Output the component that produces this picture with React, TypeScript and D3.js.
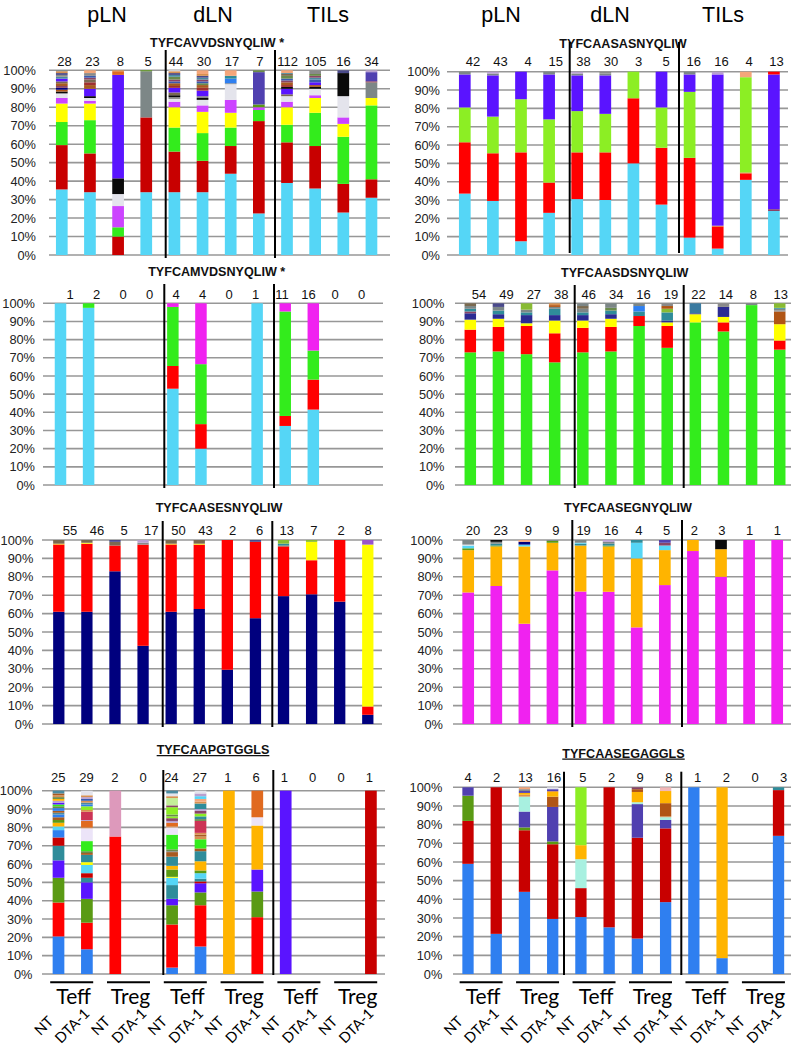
import React from "react";
import * as d3 from "d3";

// ---------- DATA ----------
const TISSUES = ["pLN", "dLN", "TILs"];
const CELL_TYPES = ["Teff", "Treg"];
const TREATMENTS = ["NT", "DTA-1"];
const Y_TICKS = [0, 10, 20, 30, 40, 50, 60, 70, 80, 90, 100];

type Seg = [string, number];

const TITLE_1L = "TYFCAVVDSNYQLIW *";
const COUNTS_1L = [28, 23, 8, 5, 44, 30, 17, 7, 112, 105, 16, 34];
const STACKS_1L: Seg[][] = [
  [["LB", 35.5], ["DR", 24], ["GR", 12.5], ["YE", 10], ["VI", 3], ["LG", 2.5], ["BK", 1], ["BR", 1], ["NV", 1], ["m5", 1], ["m3", 1.5], ["m1", 1], ["BV", 1.5], ["m6", 1], ["m8", 1], ["m2", 1], ["m7", 1], ["GY", 0.5]],
  [["LB", 34], ["DR", 21], ["GR", 18], ["YE", 9], ["VI", 1.5], ["LG", 1.5], ["BK", 1], ["BV", 4], ["m3", 2], ["m9", 1.5], ["m1", 1.5], ["m5", 1], ["m10", 1], ["m8", 1.5], ["PE", 1.5]],
  [["DR", 10], ["GR", 5], ["VI", 11.5], ["LG", 6.5], ["BK", 8.5], ["BV", 56], ["OG", 2], ["m7", 0.5]],
  [["LB", 34], ["DR", 40.5], ["GY", 25], ["OL", 0.5]],
  [["LB", 34], ["DR", 22], ["GR", 13], ["YE", 11], ["VI", 3], ["LG", 1.5], ["m8", 1], ["BK", 1], ["m1", 1.5], ["BV", 2.5], ["m9", 1], ["m3", 1.5], ["m10", 1], ["m5", 1], ["m4", 1.5], ["m6", 1], ["m2", 1], ["m7", 1], ["LG", 0.5]],
  [["LB", 34], ["DR", 17], ["GR", 15], ["YE", 11.5], ["VI", 3.5], ["LG", 3], ["BK", 1], ["m8", 1], ["BV", 3], ["m9", 1.5], ["m3", 1.5], ["m4", 1], ["m10", 1], ["m5", 1], ["m6", 1], ["m2", 1], ["m7", 1], ["PE", 2]],
  [["LB", 44], ["DR", 15], ["GR", 10], ["YE", 8], ["VI", 7], ["LG", 8.5], ["m8", 0.5], ["BL", 2.5], ["TE", 1.5], ["PE", 3]],
  [["LB", 22.5], ["DR", 50], ["GR", 6], ["VI", 1.5], ["OL", 1.5], ["SB", 17.5], ["m4", 1]],
  [["LB", 39], ["DR", 22], ["GR", 9.5], ["YE", 9.5], ["VI", 3], ["LG", 3], ["m1", 1], ["BV", 3], ["BK", 1], ["m9", 1], ["m3", 1.5], ["m5", 1], ["m10", 1], ["m4", 1.5], ["m1", 1], ["m6", 0.5], ["PE", 1.5]],
  [["LB", 36], ["DR", 23], ["GR", 18], ["YE", 8], ["VI", 1.5], ["LG", 3.5], ["BK", 1], ["m3", 1], ["BV", 1.5], ["m10", 1.5], ["m6", 1], ["m5", 1], ["m4", 1], ["m8", 2]],
  [["LB", 23], ["DR", 15.5], ["GR", 25.5], ["YE", 7], ["VI", 3.5], ["LG", 11.5], ["BK", 12.5], ["m2", 1.5]],
  [["LB", 31], ["DR", 10], ["GR", 40], ["YE", 4], ["GY", 8.5], ["m9", 0.5], ["SB", 5], ["m12", 1]],
];

const TITLE_1R = "TYFCAASASNYQLIW";
const COUNTS_1R = [42, 43, 4, 15, 38, 30, 3, 5, 16, 16, 4, 13];
const STACKS_1R: Seg[][] = [
  [["LB", 33.5], ["RD", 28], ["LM", 19], ["BV", 18], ["GY", 1.5]],
  [["LB", 29.5], ["RD", 26], ["LM", 20], ["BV", 22.5], ["GY", 1], ["m12", 1]],
  [["LB", 7.5], ["RD", 48.5], ["LM", 29], ["BV", 15]],
  [["LB", 23], ["RD", 16.5], ["LM", 34.5], ["BV", 24.5], ["GY", 1.5]],
  [["LB", 30.5], ["RD", 25.5], ["LM", 22.5], ["BV", 19.5], ["GY", 1], ["m12", 1]],
  [["LB", 30], ["RD", 26], ["LM", 21], ["BV", 21], ["GY", 1], ["m8", 1]],
  [["LB", 50], ["RD", 35.5], ["LM", 14.5]],
  [["LB", 27.5], ["RD", 31], ["LM", 22], ["BV", 19.5]],
  [["LB", 9.5], ["RD", 43.5], ["LM", 36], ["BV", 9.5], ["GY", 1.5]],
  [["LB", 3.5], ["RD", 12], ["OG", 0.5], ["BV", 82.5], ["m12", 1.5]],
  [["LB", 41], ["RD", 3.5], ["OG", 0.5], ["LM", 52], ["PE", 3]],
  [["LB", 24], ["m5", 1], ["BV", 73.5], ["RD", 1.5]],
];

const TITLE_2L = "TYFCAMVDSNYQLIW *";
const COUNTS_2L = [1, 2, 0, 0, 4, 4, 0, 1, 11, 16, 0, 0];
const STACKS_2L: Seg[][] = [
  [["LB", 100]],
  [["LB", 97.5], ["GR", 2.5]],
  [],
  [],
  [["LB", 53], ["RD", 12.5], ["GR", 32.5], ["MG", 2]],
  [["LB", 20], ["RD", 13.5], ["GR", 33], ["MG", 33.5]],
  [],
  [["LB", 100]],
  [["LB", 32.5], ["RD", 5.5], ["GR", 57.5], ["MG", 4.5]],
  [["LB", 41.5], ["RD", 16.5], ["GR", 16], ["MG", 26]],
  [],
  [],
];

const TITLE_2R = "TYFCAASDSNYQLIW";
const COUNTS_2R = [54, 49, 27, 38, 46, 34, 16, 19, 22, 14, 8, 13];
const STACKS_2R: Seg[][] = [
  [["GR", 73], ["RD", 12.5], ["YE", 5.5], ["NV2", 3.5], ["m5", 1], ["TE", 1.5], ["GY", 1.5], ["m1", 1.5]],
  [["GR", 73.5], ["RD", 13.5], ["YE", 4.5], ["NV2", 2.5], ["TE", 2], ["GY", 2], ["m2", 2]],
  [["GR", 72], ["RD", 15.5], ["YE", 1.5], ["NV2", 4.5], ["TE", 1.5], ["GY", 1.5], ["OL2", 3.5]],
  [["GR", 67.5], ["RD", 16], ["YE", 7], ["NV2", 3], ["TE", 3.5], ["GY", 1], ["BR", 1], ["m7", 1]],
  [["GR", 73], ["RD", 13.5], ["YE", 4], ["NV2", 3], ["TE", 1.5], ["GY", 2], ["m1", 1.5], ["GY", 1.5]],
  [["GR", 73.5], ["RD", 13.5], ["YE", 4.5], ["NV2", 2.5], ["TE", 2], ["m4", 1.5], ["GY", 2.5]],
  [["GR", 87.5], ["RD", 5.5], ["TE", 2.5], ["BL", 3], ["GY", 1.5]],
  [["GR", 75.5], ["RD", 12], ["YE", 2], ["NV2", 1], ["TE", 4.5], ["OL2", 2], ["BR", 1.5], ["m8", 1.5]],
  [["GR", 89.5], ["YE", 4.5], ["NV2", 0.5], ["ST", 5.5]],
  [["GR", 84.5], ["RD", 5], ["YE", 3], ["NV2", 5.5], ["m8", 2]],
  [["GR", 99], ["GY", 1]],
  [["GR", 74.5], ["RD", 5], ["YE", 9], ["BR", 7], ["m8", 0.5], ["GY", 1], ["TE", 0.5], ["OL2", 2.5]],
];

const TITLE_3L = "TYFCAASESNYQLIW";
const COUNTS_3L = [55, 46, 5, 17, 50, 43, 2, 6, 13, 7, 2, 8];
const STACKS_3L: Seg[][] = [
  [["NV", 61], ["RD", 36.5], ["OR", 0.5], ["m1", 2]],
  [["NV", 61], ["RD", 37], ["YE", 0.5], ["m1", 1.5]],
  [["NV", 83], ["RD", 14], ["m1", 2], ["m2", 1]],
  [["NV", 42.5], ["RD", 55], ["m8", 1], ["m12", 1.5]],
  [["NV", 61], ["RD", 36.5], ["OR", 0.5], ["m1", 2]],
  [["NV", 62.5], ["RD", 35], ["YE", 0.5], ["m1", 2]],
  [["NV", 29.5], ["RD", 70.5]],
  [["NV", 57.5], ["RD", 41.5], ["m2", 1]],
  [["NV", 69.5], ["RD", 27], ["m1", 0.5], ["TE", 1], ["OL2", 2]],
  [["NV", 70.5], ["RD", 18.5], ["YE", 10], ["OL2", 1]],
  [["NV", 66.5], ["RD", 33.5]],
  [["NV", 5], ["RD", 4.5], ["YE", 88], ["PU", 2.5]],
];

const TITLE_3R = "TYFCAASEGNYQLIW";
const COUNTS_3R = [20, 23, 9, 9, 19, 16, 4, 5, 2, 3, 1, 1];
const STACKS_3R: Seg[][] = [
  [["MG", 71.5], ["OR", 23], ["OL", 1], ["LB", 1.5], ["LG", 0.5], ["GY", 2.5]],
  [["MG", 75], ["OR", 21.5], ["OL", 0.5], ["TE", 1], ["GY", 1], ["BK", 1]],
  [["MG", 54.5], ["OR", 42], ["LB", 1], ["NV", 1.5], ["PE", 1]],
  [["MG", 83.5], ["OR", 15], ["OL", 1], ["GY", 0.5]],
  [["MG", 72], ["OR", 25], ["TE", 1], ["LB", 0.5], ["GY", 1.5]],
  [["MG", 71.5], ["OR", 24.5], ["OL", 0.5], ["TE", 1], ["GY", 1], ["m12", 1]],
  [["MG", 52.5], ["OR", 37.5], ["LB", 8.5], ["TE", 1.5]],
  [["MG", 75.5], ["OR", 19], ["LB", 2.5], ["m5", 1.5], ["SB", 1.5]],
  [["MG", 94], ["OR", 6]],
  [["MG", 80], ["OR", 15], ["BK", 5]],
  [["MG", 100]],
  [["MG", 100]],
];

const TITLE_4L = "TYFCAAPGTGGLS";
const COUNTS_4L = [25, 29, 2, 0, 24, 27, 1, 6, 1, 0, 0, 1];
const STACKS_4L: Seg[][] = [
  [["BL", 20.5], ["RD", 18.5], ["OL", 13.5], ["BV", 9.5], ["TE", 8], ["DR", 4.5], ["BL", 4], ["LB", 2], ["OR", 2], ["OL", 1.5], ["m3", 1.5], ["BL", 1.5], ["m6", 1], ["m3", 1], ["BL", 1.5], ["m4", 1], ["GR", 1], ["BV", 1], ["m12", 1], ["OR", 1], ["m4", 1], ["m7", 1], ["m3", 1], ["m6", 1.5]],
  [["BL", 13.5], ["RD", 14.5], ["OL", 13], ["BV", 9], ["TE", 2.5], ["DR", 2.5], ["LB", 4.5], ["YE", 1.5], ["TE", 4], ["m3", 1], ["m4", 1], ["GR", 5.5], ["LV", 7], ["m7", 0.5], ["OG", 3.5], ["m12", 0.5], ["CR", 4.5], ["m7", 1], ["LM", 2], ["BL", 1], ["m6", 1], ["m7", 1], ["m10", 1], ["m12", 1], ["m7", 1], ["LG", 2.5]],
  [["RD", 75], ["PK", 25]],
  [],
  [["BL", 3.5], ["RD", 23.5], ["OL", 10.5], ["BV", 3.5], ["TE", 7.5], ["LB", 4], ["YE", 0.5], ["OL", 4], ["OR", 2], ["TE", 5], ["m3", 2.5], ["m8", 0.5], ["m4", 1], ["GR", 8], ["LV", 4], ["m7", 0.5], ["OG", 2], ["m12", 1], ["m5", 1.5], ["LM", 1], ["m4", 1], ["LM", 4], ["m5", 1], ["LL", 4], ["m7", 1], ["LG", 1.5], ["m6", 1.5]],
  [["BL", 15], ["RD", 22.5], ["OL", 7], ["BV", 5], ["DR", 1], ["TE", 1.5], ["LB", 3], ["OL", 1.5], ["OR", 5], ["TE", 5.5], ["m3", 1.5], ["GR", 5], ["m7", 1.5], ["m3", 1], ["m7", 1], ["CR", 6.5], ["m4", 1], ["TE", 1.5], ["LM", 1.5], ["m5", 1.5], ["m12", 1], ["TE", 3], ["m7", 1], ["PE", 1.5], ["LB", 1.5], ["m12", 1.5], ["LG", 1.5]],
  [["OR", 100]],
  [["RD", 31], ["OL", 14], ["BV", 12], ["OR", 24], ["LV", 4.5], ["OG", 14.5]],
  [["BV", 100]],
  [],
  [],
  [["DR", 100]],
];

const TITLE_4R = "TYFCAASEGAGGLS";
const COUNTS_4R = [4, 2, 13, 16, 5, 2, 9, 8, 1, 2, 0, 3];
const STACKS_4R: Seg[][] = [
  [["BL", 59], ["DR", 23], ["OL", 13.5], ["SB", 4.5]],
  [["BL", 21.5], ["DR", 78.5]],
  [["BL", 44], ["DR", 33], ["OL", 1.5], ["SB", 8.5], ["AQ", 8], ["m7", 1], ["OR", 1], ["SB", 1], ["m8", 1], ["PE", 1]],
  [["BL", 29.5], ["DR", 40], ["OL", 1.5], ["SB", 18.5], ["BR", 5.5], ["OR", 2.5], ["m7", 0.5], ["SB", 1], ["LG", 1]],
  [["BL", 30.5], ["DR", 15.5], ["AQ", 15.5], ["OR", 7.5], ["LM", 31]],
  [["BL", 25], ["DR", 75]],
  [["BL", 19], ["DR", 54], ["SB", 18], ["AQ", 1], ["OR", 5.5], ["BR", 1.5], ["m5", 1]],
  [["BL", 38.5], ["DR", 39.5], ["SB", 4.5], ["AQ", 1.5], ["m7", 0.5], ["BR", 7], ["OR", 6.5], ["PK2", 2]],
  [["BL", 100]],
  [["BL", 8.5], ["OR", 91.5]],
  [],
  [["BL", 74], ["DR", 24.5], ["TE", 1.5]],
];

// ---------- STYLE ----------
const CLONE_COLORS: Record<string, string> = {
  LB: "#55d6f6", DR: "#c80000", RD: "#ff0000", GR: "#33ec1c", LM: "#8cee24",
  YE: "#ffff00", VI: "#cc44ff", MG: "#f022f0", LG: "#e4e4ec", BK: "#0a0a0a",
  BV: "#5a14ff", GY: "#7d8787", SB: "#5040b0", NV: "#00007e", NV2: "#2b2b92",
  OR: "#ffb400", BL: "#2f7ff0", OL: "#5a9a14", OL2: "#88bb33", TE: "#2f8c9a",
  CR: "#cc3355", LV: "#ece4f8", PK: "#dd99bb", PK2: "#f2b8b8", OG: "#e06a20",
  AQ: "#a8f0e0", BR: "#b05515", PE: "#f4a67a", ST: "#3a7aa0", PU: "#9955cc",
  LL: "#c4ee99",
  m1: "#7a6a50", m2: "#4a4a8a", m3: "#a85a20", m4: "#6a8a4a", m5: "#8a4466",
  m6: "#4a8aa0", m7: "#d89050", m8: "#8a8a8a", m9: "#a03030", m10: "#3a5ab0",
  m11: "#90b040", m12: "#b8a0d0",
};

const FONT = "'Liberation Sans', Arial, sans-serif";
const FONT2 = "Lato, 'Open Sans', sans-serif";

type Layout = {
  x0: number; pitch: number; bw: number; yTop: number; yBot: number;
  gx: [number, number]; seps: [number, number]; sepY: [number, number];
  title: [number, number]; countY: number; cx0: number; cpitch: number; lx: number;
};

const PANELS: { title: string; counts: number[]; stacks: Seg[][]; underline: boolean; bottom: boolean; L: Layout }[] = [
  { title: TITLE_1L, counts: COUNTS_1L, stacks: STACKS_1L, underline: false, bottom: false,
    L: { x0: 61.8, pitch: 28.15, bw: 11.7, yTop: 70.3, yBot: 255, gx: [49, 390], seps: [165.7, 275], sepY: [50, 258], title: [217, 47], countY: 66, cx0: 64.5, cpitch: 27.9, lx: 36 } },
  { title: TITLE_1R, counts: COUNTS_1R, stacks: STACKS_1R, underline: false, bottom: false,
    L: { x0: 464.8, pitch: 28.1, bw: 11.7, yTop: 71.7, yBot: 255, gx: [447, 788], seps: [569.7, 679], sepY: [42, 253], title: [623, 48], countY: 66, cx0: 473, cpitch: 27.6, lx: 440 } },
  { title: TITLE_2L, counts: COUNTS_2L, stacks: STACKS_2L, underline: false, bottom: false,
    L: { x0: 60.5, pitch: 28.09, bw: 11.5, yTop: 303.3, yBot: 485, gx: [43, 383], seps: [164.3, 274], sepY: [284, 488], title: [216.7, 276], countY: 299, cx0: 70, cpitch: 26.5, lx: 35 } },
  { title: TITLE_2R, counts: COUNTS_2R, stacks: STACKS_2R, underline: false, bottom: false,
    L: { x0: 470.3, pitch: 28.13, bw: 11.5, yTop: 303.3, yBot: 485, gx: [455, 791], seps: [574.7, 683.7], sepY: [285, 488], title: [624.7, 276.5], countY: 299, cx0: 479, cpitch: 27.43, lx: 444.5 } },
  { title: TITLE_3L, counts: COUNTS_3L, stacks: STACKS_3L, underline: false, bottom: false,
    L: { x0: 58.8, pitch: 28.09, bw: 11.3, yTop: 540, yBot: 724, gx: [42, 382], seps: [162.7, 272.3], sepY: [521, 727], title: [219, 512], countY: 535, cx0: 70, cpitch: 27.1, lx: 33.3 } },
  { title: TITLE_3R, counts: COUNTS_3R, stacks: STACKS_3R, underline: false, bottom: false,
    L: { x0: 468.2, pitch: 28.09, bw: 11.7, yTop: 540, yBot: 724, gx: [453, 791], seps: [572.3, 682], sepY: [520, 727], title: [628, 512], countY: 535, cx0: 473, cpitch: 27.66, lx: 443 } },
  { title: TITLE_4L, counts: COUNTS_4L, stacks: STACKS_4L, underline: true, bottom: true,
    L: { x0: 58.5, pitch: 28.4, bw: 11.7, yTop: 790.7, yBot: 974, gx: [42, 385], seps: [163.3, 273.3], sepY: [770, 975], title: [213, 754], countY: 782, cx0: 58.3, cpitch: 28.27, lx: 32.5 } },
  { title: TITLE_4R, counts: COUNTS_4R, stacks: STACKS_4R, underline: true, bottom: true,
    L: { x0: 468, pitch: 28.23, bw: 11.3, yTop: 787.3, yBot: 974, gx: [453, 791], seps: [564, 681.3], sepY: [771.7, 975], title: [623.5, 757.5], countY: 782, cx0: 468, cpitch: 28.7, lx: 442.3 } },
];

const HEADER_X = [[107, 213, 328], [501, 610, 723]];

function Panel({ p }: { p: (typeof PANELS)[number] }) {
  const L = p.L;
  const n = p.stacks.length;
  const y = d3.scaleLinear().domain([0, 100]).range([L.yBot, L.yTop]);
  const x = d3.scaleLinear().domain([0, n - 1]).range([L.x0, L.x0 + (n - 1) * L.pitch]);
  const cx = d3.scaleLinear().domain([0, n - 1]).range([L.cx0, L.cx0 + (n - 1) * L.cpitch]);

  const bars = p.stacks.map((stack, i) => {
    const total = d3.sum(stack, (d) => d[1]);
    const cum = d3.cumsum(stack.map((d) => d[1]));
    return stack.map(([k, v], j) => {
      const hi = (cum[j] / total) * 100;
      const lo = ((cum[j] - v) / total) * 100;
      return (
        <rect key={`${i}-${j}`} x={x(i) - L.bw / 2} y={y(hi)} width={L.bw}
          height={Math.max(0, y(lo) - y(hi))} fill={CLONE_COLORS[k]} />
      );
    });
  });

  return (
    <g>
      {Y_TICKS.map((t) => (
        <line key={`g${t}`} x1={L.gx[0]} x2={L.gx[1]} y1={y(t)} y2={y(t)} stroke="#979797" strokeWidth={1.6} />
      ))}
      {Y_TICKS.map((t) => (
        <text key={`t${t}`} x={L.lx} y={y(t)} dy="0.36em" textAnchor="end" fontSize={12.8} fontFamily={FONT} fill="#222">{`${t}%`}</text>
      ))}
      {bars}
      {p.counts.map((c, i) => (
        <text key={`c${i}`} x={cx(i)} y={L.countY} textAnchor="middle" fontSize={13} fontFamily={FONT} fill="#111">{c}</text>
      ))}
      <text x={L.title[0]} y={L.title[1]} textAnchor="middle" fontSize={12.6} fontWeight="bold" fontFamily={FONT}
        fill="#111" textDecoration={p.underline ? "underline" : undefined}>{p.title}</text>
      {L.seps.map((s, i) => (
        <line key={`s${i}`} x1={s} x2={s} y1={L.sepY[0]} y2={L.sepY[1]} stroke="#000" strokeWidth={2} />
      ))}
      {p.bottom && (
        <g>
          {d3.range(6).map((j) => {
            const mid = (x(2 * j) + x(2 * j + 1)) / 2 - 1;
            return (
              <g key={`grp${j}`}>
                <line x1={mid - 21.5} x2={mid + 21.5} y1={982.3} y2={982.3} stroke="#000" strokeWidth={2} />
                <text x={mid + 2} y={1003.5} textAnchor="middle" fontSize={21} fontFamily={FONT2} fill="#000">{CELL_TYPES[j % 2]}</text>
              </g>
            );
          })}
          {d3.range(n).map((i) => (
            <text key={`tr${i}`} transform={`translate(${x(i) - 15},${1025.5}) rotate(-45)`} textAnchor="middle"
              dominantBaseline="central" fontSize={14.5} fontFamily={FONT2} fill="#000">{TREATMENTS[i % 2]}</text>
          ))}
        </g>
      )}
    </g>
  );
}

export default function App() {
  return (
    <svg width={798} height={1045} style={{ position: "absolute", left: 0, top: 0, background: "#fff" }}>
      <rect width={798} height={1045} fill="#fff" />
      {HEADER_X.map((row, r) =>
        row.map((hx, i) => (
          <text key={`h${r}-${i}`} x={hx} y={22} textAnchor="middle" fontSize={21.5} fontFamily={FONT} fill="#000">{TISSUES[i]}</text>
        ))
      )}
      {PANELS.map((p, i) => (
        <Panel key={i} p={p} />
      ))}
    </svg>
  );
}
